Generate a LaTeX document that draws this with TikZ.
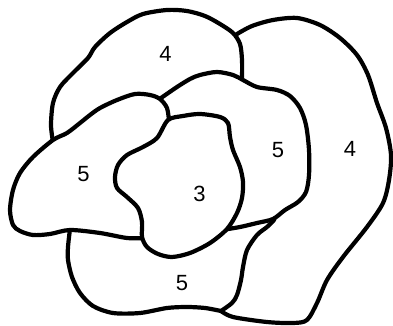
\documentclass[tikz,border=0pt]{standalone}
\usepackage{fontspec}
\setmainfont{Liberation Sans}
\usepackage{tikz}
\usetikzlibrary{positioning}

\begin{document}
\begin{tikzpicture}[x=1pt,y=-1pt,
  region/.style={draw=black,fill=white,line width=4.2pt,line join=round,line cap=round},
  lbl/.style={font=\fontsize{22}{26}\selectfont,inner sep=0pt}]
\useasboundingbox (0,0) rectangle (393,326);
% right 4 (back)
\draw[region] plot[smooth] coordinates {(237,34) (252,26) (273,20) (297,18) (320,25) (340,38) (357,55) (368,75) (377,103) (386,128) (391,155) (389,180) (383,203) (367,227) (343,257) (327,280) (317,303) (307,320) (293,323) (267,322) (233,317) (221,311)}
  -- (200,280) -- (230,200) -- (250,120) -- (228,50) -- cycle;
% bottom 5
\draw[region] plot[smooth] coordinates {(70,229) (68,247) (68,260) (72,277) (80,293) (93,306) (113,313) (140,313) (167,308) (187,307) (205,308) (221,311)}
  -- plot[smooth] coordinates {(221,311) (232,303) (237,295) (241,280) (243,267) (247,250) (257,235) (267,227) (274,220)}
  -- (280,200) -- (230,190) -- (120,215) -- cycle;
% top 4
\draw[region] plot[smooth] coordinates {(53,142) (51,125) (53,103) (60,87) (73,73) (88,58) (95,47) (110,33) (127,22) (143,14) (167,10) (187,11) (205,16) (220,24) (233,33) (240,44) (242,60) (242,79)}
  -- (235,110) -- (180,105) -- (110,130) -- (70,150) -- cycle;
% middle 5
\draw[region] plot[smooth] coordinates {(161,98) (177,87) (190,79) (200,75) (217,72) (233,75) (243,80) (257,87) (277,90) (290,96) (300,108) (306,125) (309,150) (309,175) (306,192) (298,202) (285,210) (273,219) (257,223) (240,227) (222,230)}
  -- (200,200) -- (140,130) -- cycle;
% left 5
\draw[region] plot[smooth] coordinates {(169,121) (167,108) (160,99) (150,95) (135,94) (117,100) (100,108) (90,115) (80,123) (67,133) (53,140) (33,157) (20,173) (13,190) (10,210) (13,225) (20,231) (33,235) (50,234) (70,230) (100,233) (127,238) (145,238)}
  -- (170,200) -- (175,140) -- cycle;
% 3 (front)
\draw[region] plot[smooth cycle] coordinates {(168,120) (183,116) (200,114) (220,117) (228,123) (230,137) (233,150) (240,167) (243,182) (242,198) (237,213) (227,229) (210,243) (190,253) (172,257) (158,254) (147,247) (142,237) (142,222) (138,208) (127,197) (117,188) (115,177) (118,165) (127,155) (143,147) (157,138)};
% labels
\node[lbl] (topfour) at (165.5,53.5) {4};
\node[lbl] (leftfive) at (83.5,174.5) {5};
\node[lbl] (three) at (199.5,194) {3};
\node[lbl] (midfive) at (278,150) {5};
\node[lbl] (rightfour) at (350,148.5) {4};
\node[lbl] (botfive) at (182,283.5) {5};
\end{tikzpicture}
\end{document}
